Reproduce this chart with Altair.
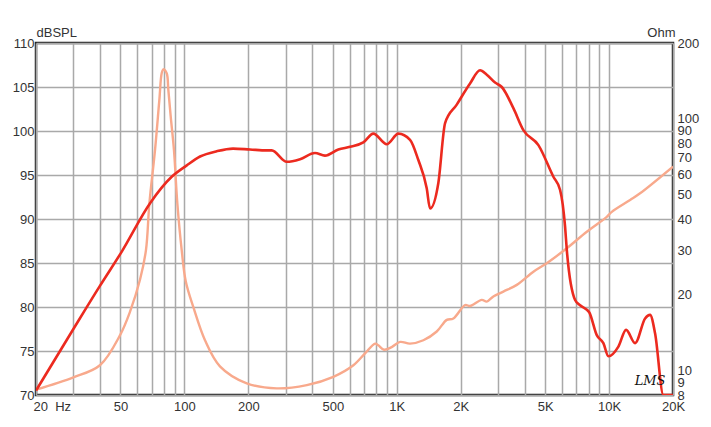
import altair as alt
import pandas as pd

# SPL curve (dB)
spl_freq = [20, 30, 40, 50.7, 68.9, 87.1, 102.6, 118.5, 142, 169.4, 203.7, 244, 257.7,
            303.4, 350.5, 412, 459, 530.8, 602.6, 696, 776, 897, 1018, 1155, 1264, 1384,
            1435, 1570, 1689, 1917, 2214, 2468, 2654, 2904, 3124, 3542, 3948, 4646, 5466,
            5879, 6207, 6322, 6918, 7302, 8060, 8750, 9400, 9926, 11064, 12024, 13260,
            14778, 15596, 16472, 18026, 20000]
spl_db = [70.5, 77.5, 82.4, 86.3, 91.8, 94.8, 96.1, 97.1, 97.7, 98.0, 97.9, 97.8, 97.8,
          96.5, 96.8, 97.5, 97.2, 97.9, 98.2, 98.7, 99.7, 98.5, 99.7, 99.0, 96.7, 93.5,
          91.2, 94.1, 100.9, 103.0, 105.4, 106.9, 106.4, 105.5, 105.0, 102.6, 100.1, 98.4,
          94.8, 93.3, 89.1, 86.5, 80.8, 80.2, 79.4, 76.8, 75.9, 74.4, 75.5, 77.4, 75.9,
          78.7, 79.1, 77.0, 70.0, 70.0]

# Impedance curve (Ohm)
imp_freq = [20, 30, 40, 49.7, 55.4, 61.8, 65.9, 68.4, 72.7, 76.2, 78.2, 79.6, 82.5, 84.0,
            86.2, 89.3, 92.6, 97.1, 101.5, 110.1, 125, 147, 196.6, 272, 377, 503, 625, 709,
            791, 819, 872, 947, 1037, 1155, 1335, 1543, 1720, 1848, 2098, 2214, 2514, 2654,
            2851, 3178, 3676, 4402, 5088, 6322, 7852, 9754, 10298, 12562, 13996, 20000]
imp_ohm = [8.4, 9.4, 10.5, 13.8, 17.1, 23.0, 30.1, 46.2, 75.1, 118.8, 152, 157.2, 151.6,
           130.2, 102.0, 75.1, 46.2, 30.1, 22.6, 17.9, 13.2, 10.4, 8.9, 8.5, 8.76, 9.45,
           10.5, 11.7, 12.8, 12.6, 12.1, 12.4, 13.0, 12.8, 13.2, 14.3, 15.9, 16.1, 18.2,
           18.05, 19.1, 18.8, 19.7, 20.6, 21.9, 24.7, 26.7, 30.6, 35.6, 40.8, 42.7, 47.6,
           50.6, 64.6]

# axis ticks
freq_grid = [20, 30, 40, 50, 60, 70, 80, 90, 100, 200, 300, 400, 500, 600, 700, 800, 900,
             1000, 2000, 3000, 4000, 5000, 6000, 7000, 8000, 9000, 10000, 20000]
freq_labels = [20, 50, 100, 200, 500, 1000, 2000, 5000, 10000, 20000]
db_ticks = [70, 75, 80, 85, 90, 95, 100, 105, 110]
ohm_ticks = [8, 9, 10, 20, 30, 40, 50, 60, 70, 80, 90, 100, 200]

spl_df = pd.DataFrame({"freq": spl_freq, "db": spl_db})
imp_df = pd.DataFrame({"freq": imp_freq, "ohm": imp_ohm})
logo_df = pd.DataFrame({"freq": [15600], "db": [71.6], "t": ["LMS"]})

NB = "\u00a0"
label_expr = (
    "indexof([" + ",".join(str(v) for v in freq_labels) + "], datum.value) < 0 ? '' : "
    "datum.value == 20 ? '20" + NB + NB + "Hz' : "
    "datum.value >= 1000 ? format(datum.value / 1000, 'd') + 'K' : format(datum.value, 'd')"
)

x_axis = alt.Axis(
    values=freq_grid, labelExpr=label_expr, grid=True, ticks=False, domain=False,
    labelPadding=5, title=None, labelOverlap=False,
    labelAlign={"condition": {"test": "datum.value == 20", "value": "left"}, "value": "center"},
    labelOffset={"condition": {"test": "datum.value == 20", "value": -3}, "value": 0},
)
x_scale = alt.Scale(type="log", domain=[20, 20000], nice=False)

imp = alt.Chart(imp_df).mark_line(color="#f8a98c", strokeWidth=2.4, interpolate="catmull-rom", clip=True).encode(
    x=alt.X("freq:Q", scale=x_scale, axis=x_axis),
    y=alt.Y("ohm:Q", scale=alt.Scale(type="log", domain=[8, 200], nice=False),
            axis=alt.Axis(orient="right", values=ohm_ticks, grid=False, ticks=False, domain=False,
                          labelOverlap=False, labelPadding=4, format="d",
                          title="Ohm", titleAngle=0, titleX=2, titleY=-7, titleAlign="right",
                          titleBaseline="alphabetic")),
)

spl = alt.Chart(spl_df).mark_line(color="#ec2a1f", strokeWidth=2.6, interpolate="monotone", clip=True).encode(
    x=alt.X("freq:Q", scale=x_scale, axis=x_axis),
    y=alt.Y("db:Q", scale=alt.Scale(domain=[70, 110], nice=False, zero=False),
            axis=alt.Axis(orient="left", values=db_ticks, grid=True, ticks=False, domain=False,
                          labelPadding=2, title="dBSPL", titleAngle=0, titleX=0, titleY=-7,
                          titleAlign="left", titleBaseline="alphabetic")),
)

logo = alt.Chart(logo_df).mark_text(font="DejaVu Serif", fontStyle="italic", fontSize=13,
                                    color="#111", align="center", baseline="middle").encode(
    x=alt.X("freq:Q", scale=x_scale, axis=x_axis),
    y=alt.Y("db:Q", scale=alt.Scale(domain=[70, 110], nice=False, zero=False), axis=None),
    text="t:N",
)

chart = alt.layer(imp, spl, logo).resolve_scale(y="independent").properties(
    width=637, height=352,
    autosize=alt.AutoSizeParams(type="none"),
    padding={"left": 28, "top": 35, "right": 30, "bottom": 24},
).configure_view(stroke="#222", strokeWidth=2.5).configure_axis(
    labelFont="Liberation Sans", labelFontSize=13, labelColor="#333",
    titleFont="Liberation Sans", titleFontSize=13, titleColor="#333", titleFontWeight="normal",
    gridColor="#a9a9a9", gridWidth=1.5, gridOpacity=1,
)

chart.save("out.html", embed_options={"renderer": "svg", "actions": False})
